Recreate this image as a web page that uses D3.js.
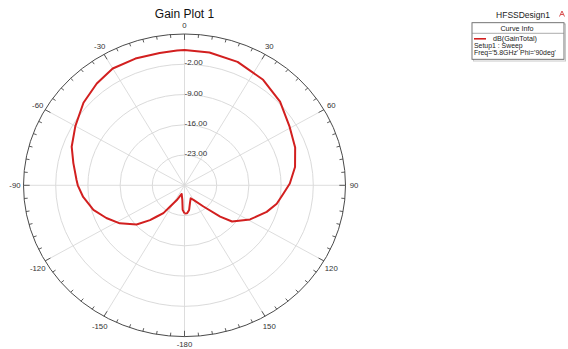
<!DOCTYPE html>
<html>
<head>
<meta charset="utf-8">
<script src="https://cdn.jsdelivr.net/npm/d3@7"></script>
<style>
  body { margin: 0; background: #fff; }
  svg { display: block; font-family: "Liberation Sans", Arial, sans-serif; }
</style>
</head>
<body>
<svg id="chart" width="568" height="349"></svg>
<script>
// Far-field gain pattern, Phi = 90deg cut (theta in degrees, gain in dB)
const thetaDeg = [-180, -176, -172, -163, -154, -147.5, -144.5, -140, -137, -131, -122, -114, -106, -97, -90, -87,
  -78, -70, -60, -49, -39, -30, -20, -10, -3, 0, 10, 22, 35, 47, 59, 70, 80, 89, 95, 102, 109, 119, 129, 133,
  140, 150, 156, 164, 170, 175, 180];
const gainDb = [-23.5, -24.3, -26.6, -27.9, -26.2, -24.1, -22.1, -20.5, -19.0, -16.2, -13.4, -11.4, -9.4, -7.8, -6.8, -6.5,
  -5.3, -3.9, -2.6, -0.9, 0.3, 1.2, 1.2, 1.1, 1.2, 1.3, 1.2, 0.8, -0.2, -1.6, -3.4, -4.4, -5.6, -7.1, -8.4, -9.5, -11.1, -13.7, -16.7, -19.4,
  -23.6, -26.1, -26.7, -25.7, -24.2, -23.5, -23.5];

// Radial grid
const radialMin = -30, radialMax = 5;
const ringValues = [-23, -16, -9, -2];
const ringLabels = ["-23.00", "-16.00", "-9.00", "-2.00"];

// Angular axis
const angleTicks = [0, 30, 60, 90, 120, 150, 180, -150, -120, -90, -60, -30];
const angleLabels = ["0", "30", "60", "90", "120", "150", "-180", "-150", "-120", "-90", "-60", "-30"];

const legendLines = ["Setup1 : Sweep", "Freq='5.8GHz' Phi='90deg'"];

const svg = d3.select("#chart");
const cx = 184.5, cy = 185.3, rx = 161, ry = 151.3;

const rScale = d3.scaleLinear().domain([radialMin, radialMax]).range([0, 1]);
const toRad = d => d * Math.PI / 180;
const px = (deg, f) => cx + rx * f * Math.sin(toRad(deg));
const py = (deg, f) => cy - ry * f * Math.cos(toRad(deg));

// Title
svg.append("text").attr("x", cx).attr("y", 18).attr("text-anchor", "middle")
  .attr("font-size", 12).attr("fill", "#111").text("Gain Plot 1");

// Grid rings
const grid = svg.append("g");
grid.selectAll("ellipse.ring").data(ringValues).join("ellipse")
  .attr("cx", cx).attr("cy", cy)
  .attr("rx", d => rx * rScale(d)).attr("ry", d => ry * rScale(d))
  .attr("fill", "none").attr("stroke", "#d6d6d6").attr("stroke-width", 0.9);

// Spokes every 30 degrees
grid.selectAll("line.spoke").data(d3.range(0, 360, 30)).join("line")
  .attr("x1", cx).attr("y1", cy)
  .attr("x2", d => px(d, 1)).attr("y2", d => py(d, 1))
  .attr("stroke", "#d9d9d9").attr("stroke-width", 0.9);

// Outer axis circle
svg.append("ellipse").attr("cx", cx).attr("cy", cy).attr("rx", rx).attr("ry", ry)
  .attr("fill", "none").attr("stroke", "#4a4a4a").attr("stroke-width", 1);

// Tick marks: minor every 5 degrees, longer at 30-degree steps
const tickLen = d => (d % 30 === 0 ? 6 : 3.5) / ((rx + ry) / 2);
svg.append("g").selectAll("line").data(d3.range(0, 360, 5)).join("line")
  .attr("x1", d => px(d, 1)).attr("y1", d => py(d, 1))
  .attr("x2", d => px(d, 1 - tickLen(d))).attr("y2", d => py(d, 1 - tickLen(d)))
  .attr("stroke", "#4a4a4a").attr("stroke-width", 0.9);

// Angle labels
svg.append("g").selectAll("text").data(angleTicks).join("text")
  .attr("x", d => px(d, 1) + 8.5 * Math.sin(toRad(d)))
  .attr("y", d => Math.min(344, py(d, 1) - 8.5 * Math.cos(toRad(d)) + (Math.cos(toRad(d)) < -0.1 ? 3 : 0)))
  .attr("text-anchor", "middle").attr("dominant-baseline", "central")
  .attr("font-size", 7.8).attr("fill", "#333")
  .text((d, i) => angleLabels[i]);

// Radial labels along the 0-degree spoke
svg.append("g").selectAll("text").data(ringValues).join("text")
  .attr("x", cx).attr("y", d => cy - ry * rScale(d) - 1.5)
  .attr("dominant-baseline", "central")
  .attr("font-size", 8).attr("fill", "#333")
  .text((d, i) => ringLabels[i]);

// Gain curve
const pattern = thetaDeg.map((t, i) => ({ t, g: gainDb[i] }));
const line = d3.line()
  .x(d => px(d.t, rScale(d.g)))
  .y(d => py(d.t, rScale(d.g)))
  .curve(d3.curveLinear);
svg.append("path").datum(pattern).attr("d", line)
  .attr("fill", "none").attr("stroke", "#d21f1f").attr("stroke-width", 2)
  .attr("stroke-linejoin", "round");

// Legend
const lg = svg.append("g");
lg.append("text").attr("x", 523).attr("y", 15).attr("text-anchor", "middle")
  .attr("dominant-baseline", "central").attr("font-size", 8.5).attr("fill", "#222").text("HFSSDesign1");
lg.append("path").attr("d", "M559.5,16.5 L562,11 L564.5,16.5 M560.6,14.5 L563.4,14.5")
  .attr("fill", "none").attr("stroke", "#d85050").attr("stroke-width", 1);
lg.append("rect").attr("x", 473.5).attr("y", 24).attr("width", 92).attr("height", 37)
  .attr("fill", "none").attr("stroke", "#c8c8c8").attr("stroke-width", 1);
lg.append("rect").attr("x", 472).attr("y", 22.7).attr("width", 92).attr("height", 36.6)
  .attr("fill", "#fff").attr("stroke", "#666").attr("stroke-width", 0.9);
lg.append("line").attr("x1", 472).attr("x2", 564).attr("y1", 33.3).attr("y2", 33.3)
  .attr("stroke", "#888").attr("stroke-width", 0.7);
lg.append("text").attr("x", 517).attr("y", 28.3).attr("text-anchor", "middle")
  .attr("dominant-baseline", "central").attr("font-size", 7.2).attr("fill", "#222").text("Curve Info");
lg.append("line").attr("x1", 474).attr("x2", 486).attr("y1", 38.8).attr("y2", 38.8)
  .attr("stroke", "#d21f1f").attr("stroke-width", 1.6);
lg.append("text").attr("x", 493).attr("y", 38.8).attr("dominant-baseline", "central")
  .attr("font-size", 7.2).attr("fill", "#222").text("dB(GainTotal)");
lg.selectAll("text.info").data(legendLines).join("text")
  .attr("x", 474).attr("y", (d, i) => 45.6 + i * 6.8).attr("dominant-baseline", "central")
  .attr("font-size", 6.9).attr("fill", "#222").text(d => d);
</script>
</body>
</html>
